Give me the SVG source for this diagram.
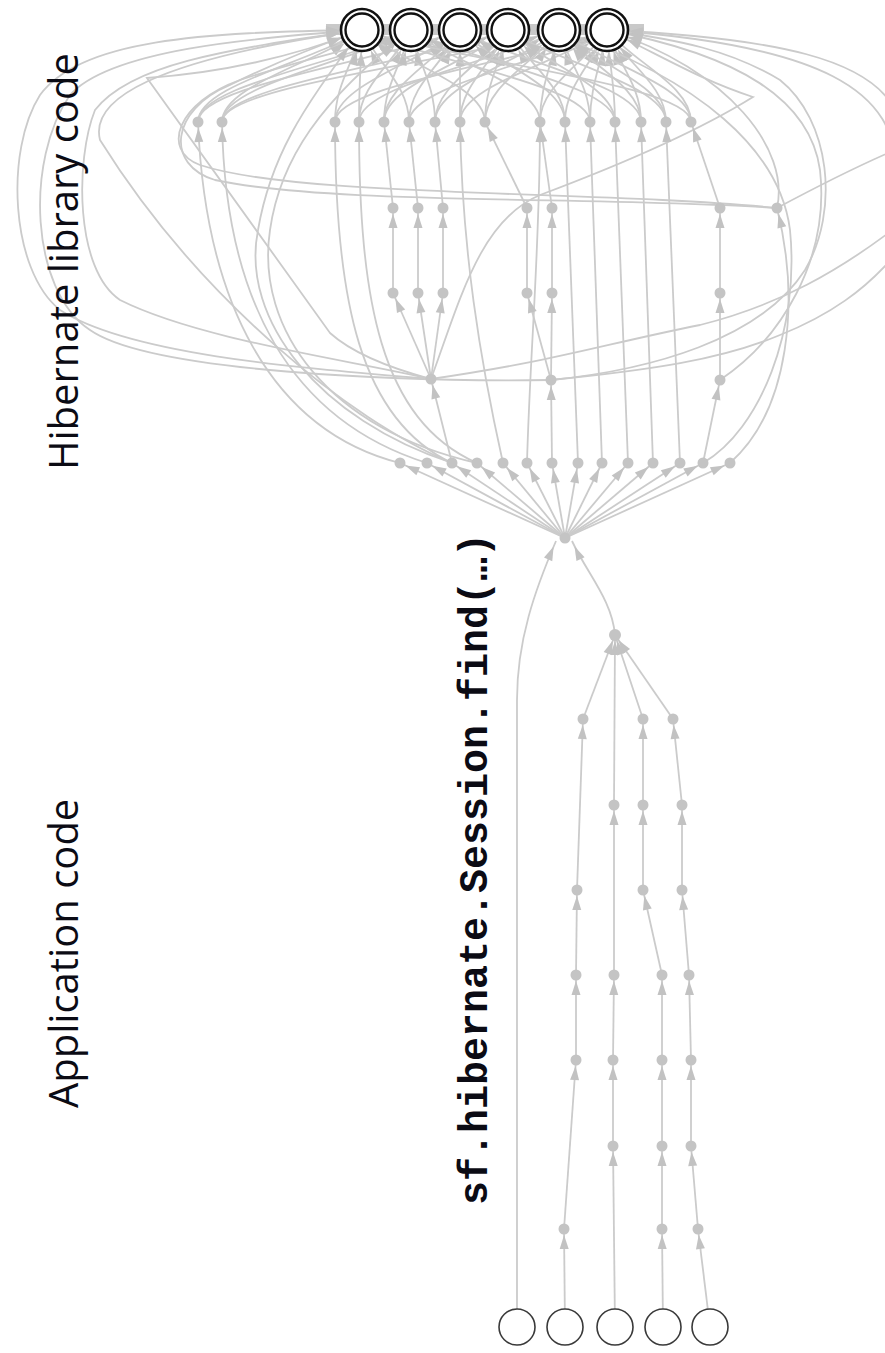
<svg xmlns="http://www.w3.org/2000/svg" width="885" height="1353" viewBox="0 0 885 1353">
<style>
.e{fill:none;stroke:#cbcbcb;stroke-width:1.8}
.ea{marker-end:url(#a)}
.et{marker-end:url(#t)}
.d{fill:#c4c4c4}
.ro{fill:#fff;stroke:#111;stroke-width:2.6}
.ri{fill:none;stroke:#111;stroke-width:2.4}
.b{fill:#fff;stroke:#3a3a3a;stroke-width:1.6}
.lab{font-family:"Open Sans","Liberation Sans",sans-serif;font-size:40px;fill:#0b0b14}
.code{font-family:"Liberation Mono","DejaVu Sans Mono",monospace;font-size:40px;font-weight:bold;fill:#0b0b14}
</style>
<defs>
<marker id="a" markerWidth="14" markerHeight="9" refX="20" refY="4.5" orient="auto" markerUnits="userSpaceOnUse" overflow="visible"><path d="M0 0L14 4.5L0 9z" fill="#c2c2c2"/></marker>
<marker id="t" markerWidth="14" markerHeight="9" refX="36" refY="4.5" orient="auto" markerUnits="userSpaceOnUse" overflow="visible"><path d="M0 0L14 4.5L0 9z" fill="#c2c2c2"/></marker>
</defs>
<rect width="885" height="1353" fill="#fff"/>
<g id="connectors">
<rect x="326" y="24" width="318" height="11" fill="#c9c9c9"/>
<g class="e et">
<path d="M198 122C198 85 313 62 362 30"/><path d="M198 122C198 85 347 62 411 30"/><path d="M198 122C198 85 381 62 460 30"/>
<path d="M222 122C222 85 320 62 362 30"/><path d="M222 122C222 85 354 62 411 30"/><path d="M222 122C222 85 422 62 508 30"/><path d="M222 122C222 85 458 62 559 30"/>
<path d="M335 122C335 85 354 62 362 30"/><path d="M335 122C335 85 422 62 460 30"/><path d="M335 122C335 85 525 62 607 30"/>
<path d="M359 122C359 85 361 62 362 30"/><path d="M359 122C359 85 395 62 411 30"/><path d="M359 122C359 85 499 62 559 30"/>
<path d="M384 122C384 85 403 62 411 30"/><path d="M384 122C384 85 437 62 460 30"/><path d="M384 122C384 85 471 62 508 30"/>
<path d="M409 122C409 85 376 62 362 30"/><path d="M409 122C409 85 445 62 460 30"/><path d="M409 122C409 85 548 62 607 30"/>
<path d="M435 122C435 85 418 62 411 30"/><path d="M435 122C435 85 486 62 508 30"/><path d="M435 122C435 85 522 62 559 30"/>
<path d="M460 122C460 85 460 62 460 30"/><path d="M460 122C460 85 494 62 508 30"/><path d="M460 122C460 85 563 62 607 30"/>
<path d="M485 122C485 85 399 62 362 30"/><path d="M485 122C485 85 501 62 508 30"/><path d="M485 122C485 85 537 62 559 30"/>
<path d="M540 122C540 85 450 62 411 30"/><path d="M540 122C540 85 553 62 559 30"/><path d="M540 122C540 85 587 62 607 30"/>
<path d="M565 122C565 85 492 62 460 30"/><path d="M565 122C565 85 525 62 508 30"/><path d="M565 122C565 85 594 62 607 30"/>
<path d="M590 122C590 85 430 62 362 30"/><path d="M590 122C590 85 568 62 559 30"/><path d="M590 122C590 85 602 62 607 30"/>
<path d="M615 122C615 85 472 62 411 30"/><path d="M615 122C615 85 540 62 508 30"/><path d="M615 122C615 85 609 62 607 30"/>
<path d="M641 122C641 85 514 62 460 30"/><path d="M641 122C641 85 584 62 559 30"/><path d="M641 122C641 85 617 62 607 30"/>
<path d="M666 122C666 85 555 62 508 30"/><path d="M666 122C666 85 591 62 559 30"/><path d="M666 122C666 85 625 62 607 30"/>
<path d="M691 122C691 85 461 62 362 30"/><path d="M691 122C691 85 599 62 559 30"/><path d="M691 122C691 85 632 62 607 30"/>
<path d="M777 208C600 196 330 205 215 180C165 165 170 110 230 85C270 65 320 45 362 30"/>
<path d="M777 208C600 190 300 198 200 165C160 150 178 102 240 80C300 60 370 45 411 30"/>
<path d="M551 380C400 382 150 372 90 330C30 290 25 160 70 95C110 50 250 38 362 30"/>
<path d="M431 379Q360 360 330 333L147 78Q260 70 362 30"/>
<path d="M431 379C300 368 130 355 60 310C10 270 5 150 40 95C80 40 200 32 362 30"/>
<path d="M431 379C350 360 200 340 120 300C75 270 75 160 95 110C130 65 220 50 362 30"/>
<path d="M551 380C650 370 760 340 805 270C840 210 830 120 780 80C730 50 680 40 607 30"/>
<path d="M720 380C780 340 830 260 820 170C810 100 740 55 607 30"/>
<path d="M703 463C760 430 800 330 790 230C780 150 700 80 559 30"/>
<path d="M777 208C790 150 730 70 607 30"/>
<path d="M431 379C460 300 480 220 540 195C620 165 700 130 753 97C700 80 660 55 607 30"/>
<path d="M477 463C330 430 255 330 270 230C280 160 320 100 411 30"/>
<path d="M452 463C320 420 240 320 258 230C270 160 300 110 362 30"/>
<path d="M452 463C350 420 200 300 100 140C90 100 150 60 362 30"/>
<path d="M895 175C900 90 820 45 607 30"/>
<path d="M895 110C870 60 780 38 607 30"/>
</g>
<g class="e">
<path d="M777 208C820 185 860 165 895 150"/>
<path d="M431 379C560 360 600 345 700 325C780 305 840 270 895 228"/>
<path d="M551 380C650 370 720 360 780 335C830 315 865 290 895 255"/>
</g>
<g class="e ea">
<path d="M730 463C790 410 800 300 777 208"/>
<path d="M400 463C270 430 205 300 198 122"/>
<path d="M427 463C290 420 225 300 222 122"/>
<path d="M452 463C360 420 335 300 335 122"/>
<path d="M477 463C380 420 359 300 359 122"/>
<path d="M393 208L384 122"/><path d="M418 208L409 122"/><path d="M443 208L435 122"/>
<path d="M503 463C480 360 462 250 460 122"/>
<path d="M527 208L485 122"/><path d="M552 208L540 122"/>
<path d="M527 463C530 350 540 250 540 122"/>
<path d="M578 463L565 122"/><path d="M602 463L590 122"/><path d="M628 463L615 122"/><path d="M653 463L641 122"/><path d="M680 463L666 122"/>
<path d="M720 208L691 122"/>
<path d="M452 463L431 379"/><path d="M552 463L551 380"/><path d="M703 463L720 380"/>
<path d="M431 379L393 293"/><path d="M431 379L418 293"/><path d="M431 379L443 293"/>
<path d="M551 380L527 293"/><path d="M551 380L552 293"/><path d="M720 380L720 293"/>
<path d="M393 293L393 208"/><path d="M418 293L418 208"/><path d="M443 293L443 208"/>
<path d="M527 293L527 208"/><path d="M552 293L552 208"/><path d="M720 293L720 208"/>
<path d="M565 538L400 463"/><path d="M565 538L427 463"/><path d="M565 538L452 463"/><path d="M565 538L477 463"/>
<path d="M565 538L503 463"/><path d="M565 538L527 463"/><path d="M565 538L552 463"/><path d="M565 538L578 463"/>
<path d="M565 538L602 463"/><path d="M565 538L628 463"/><path d="M565 538L653 463"/><path d="M565 538L680 463"/>
<path d="M565 538L703 463"/><path d="M565 538L730 463"/>
<path d="M615 635C612 600 588 575 572 541"/>
<path d="M517 1327L517 700C517 640 535 590 556 541"/>
<path d="M583 719L615 635"/><path d="M614 805L615 635"/><path d="M643 719L615 635"/><path d="M673 719L615 635"/>
<path d="M577 890L583 719"/><path d="M576 975L577 890"/><path d="M576 1060L576 975"/><path d="M564 1229L576 1060"/><path d="M565 1327L564 1229"/>
<path d="M614 975L614 805"/><path d="M613 1060L614 975"/><path d="M613 1146L613 1060"/><path d="M615 1327L613 1146"/>
<path d="M643 805L643 719"/><path d="M643 890L643 805"/><path d="M662 975L643 890"/><path d="M662 1060L662 975"/><path d="M662 1146L662 1060"/><path d="M662 1229L662 1146"/><path d="M663 1327L662 1229"/>
<path d="M682 805L673 719"/><path d="M682 890L682 805"/><path d="M689 975L682 890"/><path d="M691 1060L689 975"/><path d="M691 1146L691 1060"/><path d="M698 1229L691 1146"/><path d="M710 1327L698 1229"/>
</g>
</g>
<g id="nodes">
<g id="t1"><circle cx="362" cy="30" r="21" class="ro"/><circle cx="362" cy="30" r="16.5" class="ri"/></g>
<g id="t2"><circle cx="411" cy="30" r="21" class="ro"/><circle cx="411" cy="30" r="16.5" class="ri"/></g>
<g id="t3"><circle cx="460" cy="30" r="21" class="ro"/><circle cx="460" cy="30" r="16.5" class="ri"/></g>
<g id="t4"><circle cx="508" cy="30" r="21" class="ro"/><circle cx="508" cy="30" r="16.5" class="ri"/></g>
<g id="t5"><circle cx="559" cy="30" r="21" class="ro"/><circle cx="559" cy="30" r="16.5" class="ri"/></g>
<g id="t6"><circle cx="607" cy="30" r="21" class="ro"/><circle cx="607" cy="30" r="16.5" class="ri"/></g>
<g id="r1_198"><circle cx="198" cy="122" r="5.5" class="d"/></g>
<g id="r1_222"><circle cx="222" cy="122" r="5.5" class="d"/></g>
<g id="r1_335"><circle cx="335" cy="122" r="5.5" class="d"/></g>
<g id="r1_359"><circle cx="359" cy="122" r="5.5" class="d"/></g>
<g id="r1_384"><circle cx="384" cy="122" r="5.5" class="d"/></g>
<g id="r1_409"><circle cx="409" cy="122" r="5.5" class="d"/></g>
<g id="r1_435"><circle cx="435" cy="122" r="5.5" class="d"/></g>
<g id="r1_460"><circle cx="460" cy="122" r="5.5" class="d"/></g>
<g id="r1_485"><circle cx="485" cy="122" r="5.5" class="d"/></g>
<g id="r1_540"><circle cx="540" cy="122" r="5.5" class="d"/></g>
<g id="r1_565"><circle cx="565" cy="122" r="5.5" class="d"/></g>
<g id="r1_590"><circle cx="590" cy="122" r="5.5" class="d"/></g>
<g id="r1_615"><circle cx="615" cy="122" r="5.5" class="d"/></g>
<g id="r1_641"><circle cx="641" cy="122" r="5.5" class="d"/></g>
<g id="r1_666"><circle cx="666" cy="122" r="5.5" class="d"/></g>
<g id="r1_691"><circle cx="691" cy="122" r="5.5" class="d"/></g>
<g id="r2_393"><circle cx="393" cy="208" r="5.5" class="d"/></g>
<g id="r2_418"><circle cx="418" cy="208" r="5.5" class="d"/></g>
<g id="r2_443"><circle cx="443" cy="208" r="5.5" class="d"/></g>
<g id="r2_527"><circle cx="527" cy="208" r="5.5" class="d"/></g>
<g id="r2_552"><circle cx="552" cy="208" r="5.5" class="d"/></g>
<g id="r2_720"><circle cx="720" cy="208" r="5.5" class="d"/></g>
<g id="r2_777"><circle cx="777" cy="208" r="5.5" class="d"/></g>
<g id="r3_393"><circle cx="393" cy="293" r="5.5" class="d"/></g>
<g id="r3_418"><circle cx="418" cy="293" r="5.5" class="d"/></g>
<g id="r3_443"><circle cx="443" cy="293" r="5.5" class="d"/></g>
<g id="r3_527"><circle cx="527" cy="293" r="5.5" class="d"/></g>
<g id="r3_552"><circle cx="552" cy="293" r="5.5" class="d"/></g>
<g id="r3_720"><circle cx="720" cy="293" r="5.5" class="d"/></g>
<g id="r4_431"><circle cx="431" cy="379" r="5.5" class="d"/></g>
<g id="r4_551"><circle cx="551" cy="380" r="5.5" class="d"/></g>
<g id="r4_720"><circle cx="720" cy="380" r="5.5" class="d"/></g>
<g id="r5_400"><circle cx="400" cy="463" r="5.5" class="d"/></g>
<g id="r5_427"><circle cx="427" cy="463" r="5.5" class="d"/></g>
<g id="r5_452"><circle cx="452" cy="463" r="5.5" class="d"/></g>
<g id="r5_477"><circle cx="477" cy="463" r="5.5" class="d"/></g>
<g id="r5_503"><circle cx="503" cy="463" r="5.5" class="d"/></g>
<g id="r5_527"><circle cx="527" cy="463" r="5.5" class="d"/></g>
<g id="r5_552"><circle cx="552" cy="463" r="5.5" class="d"/></g>
<g id="r5_578"><circle cx="578" cy="463" r="5.5" class="d"/></g>
<g id="r5_602"><circle cx="602" cy="463" r="5.5" class="d"/></g>
<g id="r5_628"><circle cx="628" cy="463" r="5.5" class="d"/></g>
<g id="r5_653"><circle cx="653" cy="463" r="5.5" class="d"/></g>
<g id="r5_680"><circle cx="680" cy="463" r="5.5" class="d"/></g>
<g id="r5_703"><circle cx="703" cy="463" r="5.5" class="d"/></g>
<g id="r5_730"><circle cx="730" cy="463" r="5.5" class="d"/></g>
<g id="find"><circle cx="565" cy="538" r="5.5" class="d"/></g>
<g id="a_615"><circle cx="615" cy="635" r="6" class="d"/></g>
<g id="l719_583"><circle cx="583" cy="719" r="5.5" class="d"/></g>
<g id="l719_643"><circle cx="643" cy="719" r="5.5" class="d"/></g>
<g id="l719_673"><circle cx="673" cy="719" r="5.5" class="d"/></g>
<g id="l805_614"><circle cx="614" cy="805" r="5.5" class="d"/></g>
<g id="l805_643"><circle cx="643" cy="805" r="5.5" class="d"/></g>
<g id="l805_682"><circle cx="682" cy="805" r="5.5" class="d"/></g>
<g id="l890_577"><circle cx="577" cy="890" r="5.5" class="d"/></g>
<g id="l890_643"><circle cx="643" cy="890" r="5.5" class="d"/></g>
<g id="l890_682"><circle cx="682" cy="890" r="5.5" class="d"/></g>
<g id="l975_576"><circle cx="576" cy="975" r="5.5" class="d"/></g>
<g id="l975_614"><circle cx="614" cy="975" r="5.5" class="d"/></g>
<g id="l975_662"><circle cx="662" cy="975" r="5.5" class="d"/></g>
<g id="l975_689"><circle cx="689" cy="975" r="5.5" class="d"/></g>
<g id="l1060_576"><circle cx="576" cy="1060" r="5.5" class="d"/></g>
<g id="l1060_613"><circle cx="613" cy="1060" r="5.5" class="d"/></g>
<g id="l1060_662"><circle cx="662" cy="1060" r="5.5" class="d"/></g>
<g id="l1060_691"><circle cx="691" cy="1060" r="5.5" class="d"/></g>
<g id="l1146_613"><circle cx="613" cy="1146" r="5.5" class="d"/></g>
<g id="l1146_662"><circle cx="662" cy="1146" r="5.5" class="d"/></g>
<g id="l1146_691"><circle cx="691" cy="1146" r="5.5" class="d"/></g>
<g id="l1229_564"><circle cx="564" cy="1229" r="5.5" class="d"/></g>
<g id="l1229_662"><circle cx="662" cy="1229" r="5.5" class="d"/></g>
<g id="l1229_698"><circle cx="698" cy="1229" r="5.5" class="d"/></g>
<g id="b1"><circle cx="517" cy="1327" r="18" class="b"/></g>
<g id="b2"><circle cx="565" cy="1327" r="18" class="b"/></g>
<g id="b3"><circle cx="615" cy="1327" r="18" class="b"/></g>
<g id="b4"><circle cx="663" cy="1327" r="18" class="b"/></g>
<g id="b5"><circle cx="710" cy="1327" r="18" class="b"/></g>
</g>
<g id="labels">
<text class="lab" transform="translate(78 470) rotate(-90)">Hibernate library code</text>
<text class="lab" transform="translate(78 1108) rotate(-90)">Application code</text>
<text class="code" transform="translate(487 1205) rotate(-90)">sf.hibernate.Session.find(…)</text>
</g>
</svg>
